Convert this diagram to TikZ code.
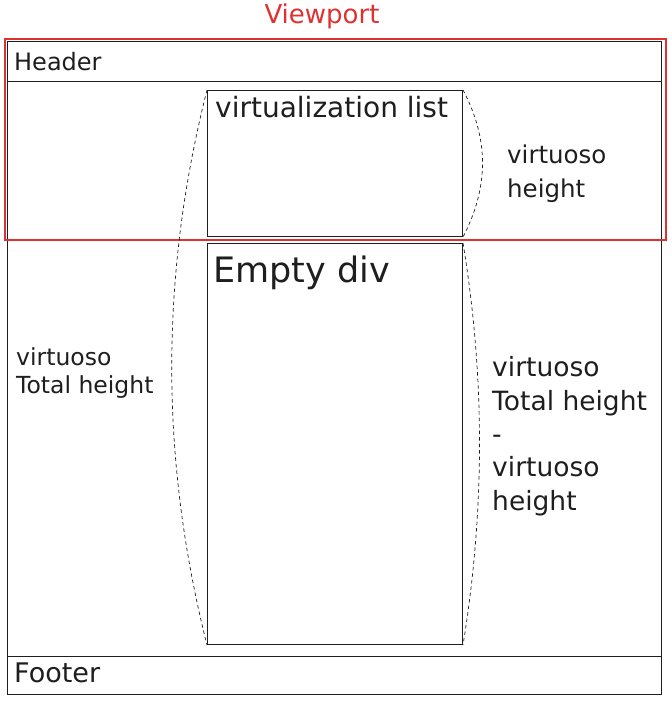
\documentclass[tikz,border=0pt]{standalone}
\usepackage{fontspec}
\setmainfont{DejaVu Sans}
\usetikzlibrary{positioning}

\definecolor{ink}{HTML}{1E1E1E}
\definecolor{vred}{HTML}{E03131}

\begin{document}
\begin{tikzpicture}[x=1pt, y=-1pt,
    box/.style={
        draw=ink,
        line width=1pt,
        rectangle,
        inner sep=0pt,
        anchor=north west},
    txt/.style={
        text=ink,
        inner sep=0pt,
        anchor=base west,
        align=left},
    curve/.style={
        draw=ink,
        line width=.7pt,
        dash pattern=on 3.5pt off 3pt}]

    \useasboundingbox (0,0) rectangle (672,702);

    \node[box, minimum width=654, minimum height=653] (P) at (7,41) {};
    \node[box, minimum width=654, minimum height=40] (H) at (7,41) {};
    \node[box, minimum width=654, minimum height=38] (F) at (7,656) {};
    \node[box, minimum width=255, minimum height=146] (L) at (207,90) {};
    \node[box, minimum width=255, minimum height=401] (E) at (207,243) {};
    \node[box, draw=vred, line width=2pt, minimum width=661, minimum height=201] (V) at (4,38) {};

    \draw[curve] (L.north west) .. controls (160,275) and (160,459) .. (E.south west);
    \draw[curve] (L.north east) .. controls (489,139) and (489,187) .. (L.south east);
    \draw[curve] (E.north east) .. controls (485,377) and (485,510) .. (E.south east);

    \node[txt, text=vred, anchor=base, font=\fontsize{26}{30}\selectfont] (v) at (322,23) {Viewport};
    \node[txt, font=\fontsize{24}{28}\selectfont] (h) at (14,70) {Header};
    \node[txt, font=\fontsize{27}{30}\selectfont] (f) at (14,682) {Footer};
    \node[txt, font=\fontsize{28}{32}\selectfont] (l) at (215,117) {virtualization list};
    \node[txt, font=\fontsize{35}{38}\selectfont] (e) at (213,282) {Empty div};
    \node[txt, font=\fontsize{24.5}{34}\selectfont] (vh) at (507,197) {virtuoso\\height};
    \node[txt, font=\fontsize{23.5}{28}\selectfont] (th) at (16,393) {virtuoso\\Total height};
    \node[txt, font=\fontsize{26.5}{33.3}\selectfont] (dh) at (492,510) {virtuoso\\Total height\\-\\virtuoso\\height};
\end{tikzpicture}
\end{document}
